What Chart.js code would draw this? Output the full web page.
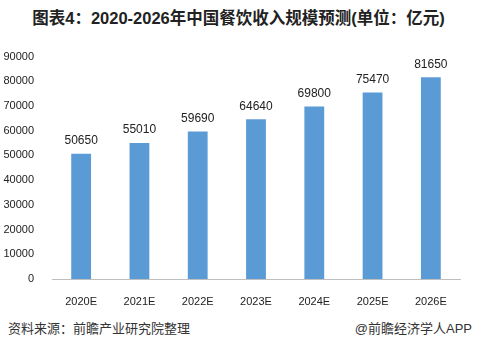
<!DOCTYPE html>
<html>
<head>
<meta charset="utf-8">
<script src="https://cdn.jsdelivr.net/npm/chart.js@4"></script>
<style>
  body { margin: 0; width: 477px; height: 349px; background: #fff; position: relative; overflow: hidden;
         font-family: "Liberation Sans", "Noto Sans CJK SC", sans-serif; }
  #title { position: absolute; top: 5px; left: 0; width: 477px; text-align: center; font-weight: bold;
           font-size: 16.5px; color: #222; }
  #box { position: absolute; left: 0; top: 40px; width: 477px; height: 270px; }
  .foot { position: absolute; top: 318px; font-size: 13px; color: #333; }
</style>
</head>
<body>
<div id="title">图表4：2020-2026年中国餐饮收入规模预测(单位：亿元)</div>
<div id="box"><canvas id="myChart"></canvas></div>
<div class="foot" style="left:8px;">资料来源：前瞻产业研究院整理</div>
<div class="foot" style="right:5px;">@前瞻经济学人APP</div>
<script>
// 餐饮收入 data
const years = ['2020E', '2021E', '2022E', '2023E', '2024E', '2025E', '2026E'];
const revenue = [50650, 55010, 59690, 64640, 69800, 75470, 81650];
const yTicks = [0, 10000, 20000, 30000, 40000, 50000, 60000, 70000, 80000, 90000];

// draw values above bars
const valueLabels = {
  id: 'valueLabels',
  afterDatasetsDraw(chart) {
    const ctx = chart.ctx;
    ctx.save();
    ctx.font = '12px "Liberation Sans", sans-serif';
    ctx.fillStyle = '#222';
    ctx.textAlign = 'center';
    ctx.textBaseline = 'bottom';
    chart.getDatasetMeta(0).data.forEach((bar, i) => {
      ctx.fillText(revenue[i], bar.x, bar.y - 7);
    });
    ctx.restore();
  }
};

new Chart(document.getElementById('myChart'), {
  type: 'bar',
  data: {
    labels: years,
    datasets: [{
      data: revenue,
      backgroundColor: '#5B9BD5',
      categoryPercentage: 1,
      barPercentage: 0.34
    }]
  },
  options: {
    responsive: true,
    maintainAspectRatio: false,
    animation: false,
    layout: { padding: { top: 10, right: 17, bottom: 0, left: 0 } },
    plugins: { legend: { display: false }, tooltip: { enabled: false } },
    scales: {
      x: {
        grid: { display: false },
        border: { color: '#bfbfbf' },
        ticks: { color: '#222', font: { size: 11, family: '"Liberation Sans", sans-serif' }, padding: 8 },
        afterFit(axis) { axis.height = 31; }
      },
      y: {
        min: 0,
        max: 90000,
        afterBuildTicks(axis) { axis.ticks = yTicks.map(v => ({ value: v })); },
        grid: { display: false },
        border: { display: false },
        ticks: {
          color: '#222',
          font: { size: 11, family: '"Liberation Sans", sans-serif' },
          padding: 10,
          callback: v => String(v)
        },
        afterFit(axis) { axis.width = 52; }
      }
    }
  },
  plugins: [valueLabels]
});
</script>
</body>
</html>
